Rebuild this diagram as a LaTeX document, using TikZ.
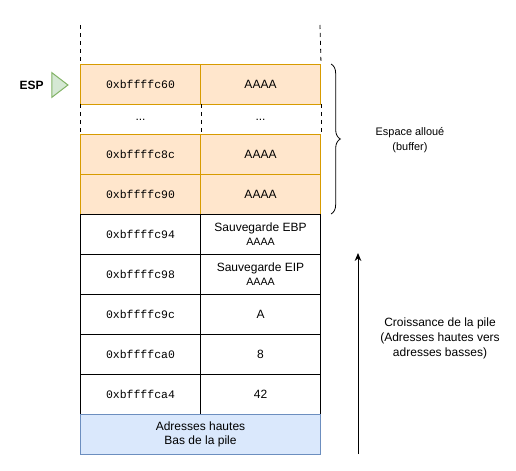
\documentclass[tikz,border=0pt]{standalone}
\usepackage{fontspec}
\setmainfont{Liberation Sans}
\setmonofont{Liberation Mono}
\usepackage{tikz}
\usetikzlibrary{shapes.geometric, positioning, calc, decorations.pathreplacing, arrows.meta}
\definecolor{stOrangeFill}{HTML}{FFE6CC}
\definecolor{stOrangeLine}{HTML}{D79B00}
\definecolor{stBlueFill}{HTML}{DAE8FC}
\definecolor{stBlueLine}{HTML}{6C8EBF}
\definecolor{stGreenFill}{HTML}{D5E8D4}
\definecolor{stGreenLine}{HTML}{82B366}

\tikzset{
  cell/.style={draw, line width=0.75pt, inner sep=0pt, minimum width=90pt, minimum height=30pt,
    anchor=north west, align=center, font=\fontsize{9}{10.5}\selectfont},
  bufcell/.style={cell, draw=stOrangeLine, fill=stOrangeFill},
  addr/.style={font=\ttfamily\fontsize{8.6}{10}\selectfont},
  note/.style={align=center, font=\fontsize{9}{11.25}\selectfont},
  gap/.style={dashed, line width=0.6pt}
}

\begin{document}
\begin{tikzpicture}[x=0.75pt, y=-0.75pt]
    \useasboundingbox (0,0) rectangle (516,470);
    % buffer cells
    \node[bufcell, addr] (a60) at (80,64) {0xbffffc60};
    \node[bufcell] (v60) at (200,64) {AAAA};
    \node[cell, draw=none, minimum height=22.5pt] (a6x) at (80,104) {...};
    \node[cell, draw=none, minimum height=22.5pt] (v6x) at (200,104) {...};
    \node[bufcell, addr] (a8c) at (80,134) {0xbffffc8c};
    \node[bufcell] (v8c) at (200,134) {AAAA};
    \node[bufcell, addr] (a90) at (80,174) {0xbffffc90};
    \node[bufcell] (v90) at (200,174) {AAAA};
    % saved registers and arguments
    \node[cell, addr] (a94) at (80,214) {0xbffffc94};
    \node[cell] (v94) at (200,214) {Sauvegarde EBP\\{\fontsize{8}{9}\selectfont AAAA}};
    \node[cell, addr] (a98) at (80,254) {0xbffffc98};
    \node[cell] (v98) at (200,254) {Sauvegarde EIP\\{\fontsize{8}{9}\selectfont AAAA}};
    \node[cell, addr] (a9c) at (80,294) {0xbffffc9c};
    \node[cell] (v9c) at (200,294) {A};
    \node[cell, addr] (aa0) at (80,334) {0xbffffca0};
    \node[cell] (va0) at (200,334) {8};
    \node[cell, addr] (aa4) at (80,374) {0xbffffca4};
    \node[cell] (va4) at (200,374) {42};
    \node[cell, draw=stBlueLine, fill=stBlueFill, minimum width=180pt] (bottom) at (80,414) {Adresses hautes\\Bas de la pile};
    % dashed edges
    \draw[gap] (80,25) -- (a60.north west);
    \draw[gap] (320,25) -- (v60.north east);
    \draw[gap] (a6x.north west) -- (a6x.south west);
    \draw[gap] (a6x.north east) -- (a6x.south east);
    \draw[gap] (v6x.north east) -- (v6x.south east);
    % stack pointer
    \node[isosceles triangle, isosceles triangle apex angle=75, draw=stGreenLine, fill=stGreenFill,
      line width=0.75pt, minimum height=12pt, minimum width=15pt, inner sep=0pt] (esparrow) at (58,85) {};
    \node[font=\bfseries\fontsize{9}{10}\selectfont, anchor=east, inner sep=0pt] (esp) at (44,85) {ESP};
    % buffer brace
    \draw[line width=0.6pt, decorate, decoration={brace, amplitude=7pt}] (331,64) -- (331,214);
    \node[note, font=\fontsize{8.2}{11}\selectfont] (buflabel) at (410,140) {Espace allou\'e\\(buffer)};
    % growth direction
    \coordinate (growlow) at (358,454);
    \coordinate (growhigh) at (358,253);
    \draw[-{Stealth[length=6pt, width=5pt]}, line width=0.75pt] (growlow) -- (growhigh);
    \node[note] (growlabel) at (440,338) {Croissance de la pile\\(Adresses hautes vers\\adresses basses)};
  \end{tikzpicture}
\end{document}
